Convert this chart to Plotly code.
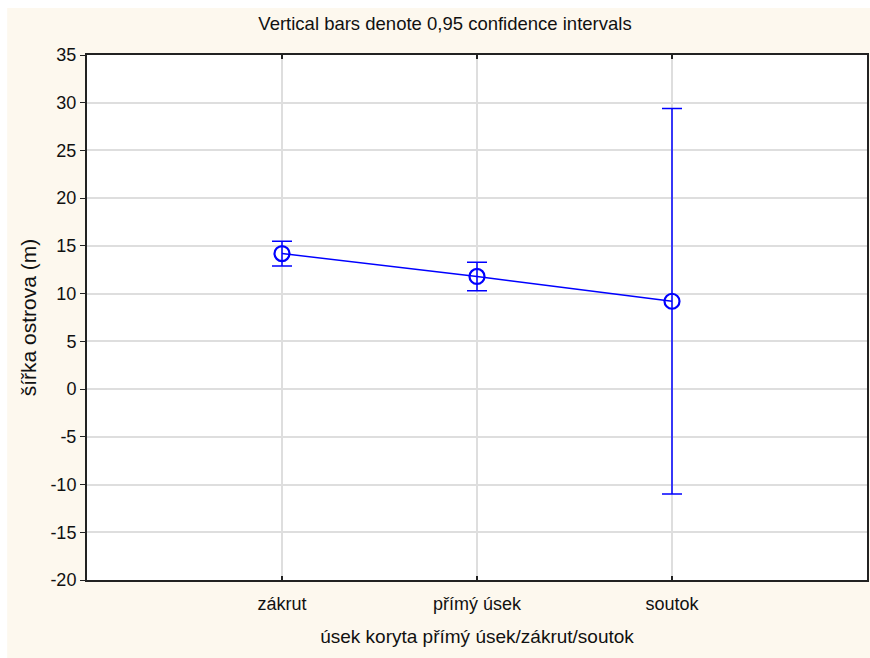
import plotly.graph_objects as go

# Group means with 0.95 confidence limits
categories = ["zákrut", "přímý úsek", "soutok"]
means = [14.2, 11.8, 9.2]
ci_upper = [15.5, 13.3, 29.4]
ci_lower = [12.9, 10.3, -11.0]
y_ticks = [-20, -15, -10, -5, 0, 5, 10, 15, 20, 25, 30, 35]
y_tick_text = ["-20", "-15", "-10", "-5", "0", "5", "10", "15", "20", "25", "30", "35"]

x_pos = list(range(1, len(categories) + 1))
err_plus = [u - m for u, m in zip(ci_upper, means)]
err_minus = [m - l for m, l in zip(means, ci_lower)]

BLUE = "#0000ff"
CREAM = "#fdf8ee"
FONT = "Liberation Sans, Arial, sans-serif"

fig = go.Figure()
fig.add_trace(go.Scatter(
    x=x_pos, y=means,
    mode="lines+markers",
    line=dict(color=BLUE, width=1.5),
    marker=dict(symbol="circle-open", size=15, color=BLUE, line=dict(width=2.2, color=BLUE)),
    error_y=dict(type="data", array=err_plus, arrayminus=err_minus,
                 color=BLUE, thickness=1.5, width=10),
    showlegend=False,
))

W, H = 870, 658
L, R, T, B = 87, 1, 55, 78

fig.update_layout(
    width=W, height=H,
    margin=dict(l=L, r=R, t=T, b=B, pad=0),
    paper_bgcolor=CREAM,
    plot_bgcolor="white",
    font=dict(family=FONT, color="#111", size=18),
    title=dict(text="Vertical bars denote 0,95 confidence intervals",
               x=445 / W, xanchor="center", y=1 - 24 / H, yanchor="middle",
               font=dict(size=18.5, family=FONT, color="#111")),
    xaxis=dict(
        range=[0, 4], tickmode="array", tickvals=x_pos, ticktext=categories,
        showgrid=True, gridcolor="#dedede", gridwidth=1.5, zeroline=False,
        showline=True, linecolor="#222", linewidth=2, mirror="ticks",
        ticks="inside", ticklen=4, tickcolor="#222", tickwidth=1.5,
        tickfont=dict(size=18), ticklabelstandoff=6,
        title=dict(text="úsek koryta přímý úsek/zákrut/soutok", font=dict(size=19), standoff=17),
    ),
    yaxis=dict(
        range=[-20, 35], tickmode="array", tickvals=y_ticks, ticktext=y_tick_text,
        showgrid=True, gridcolor="#dedede", gridwidth=1.5, zeroline=False,
        showline=True, linecolor="#222", linewidth=2, mirror=True,
        ticks="outside", ticklen=5, tickcolor="#222", tickwidth=1,
        tickfont=dict(size=18),
        title=dict(text="šířka ostrova (m)", font=dict(size=21), standoff=8),
    ),
    shapes=[
        # white strips along the top and left edges of the page
        dict(type="rect", xref="paper", yref="paper", layer="above",
             x0=-L / 782 - 0.01, x1=(W - L) / 782 + 0.01,
             y0=(H - B - 8) / 525, y1=(H - B) / 525 + 0.01,
             fillcolor="white", line=dict(width=0)),
        dict(type="rect", xref="paper", yref="paper", layer="above",
             x0=-L / 782 - 0.01, x1=(7 - L) / 782,
             y0=-B / 525 - 0.01, y1=(H - B) / 525 + 0.01,
             fillcolor="white", line=dict(width=0)),
    ],
)

fig.write_html("out.html")
